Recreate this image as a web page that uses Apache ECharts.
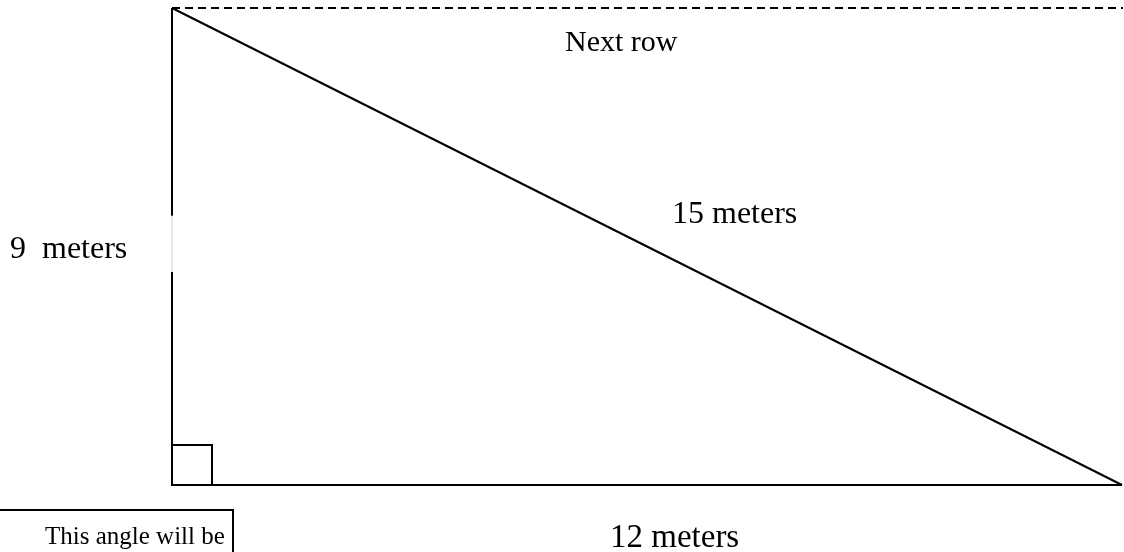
<!DOCTYPE html>
<html>
<head>
<meta charset="utf-8">
<script src="https://cdn.jsdelivr.net/npm/echarts@6/dist/echarts.min.js"></script>
<style>
html,body{margin:0;padding:0;background:#fff;}
#c{width:1124px;height:552px;}
</style>
</head>
<body>
<div id="c"></div>
<script>
// Triangle side lengths (meters)
var baseMeters = 12;
var heightMeters = 9;
var hypotenuseMeters = 15;
// Segments of the triangle [x meters, y meters]
var legVertical = [[0, 0], [0, 4.02], null, [0, 5.08], [0, 9]];
var legVerticalGap = [[0, 4.02], [0, 5.08]];
var legBase = [[0, 0], [12, 0]];
var hypotenuse = [[0, 9], [12, 0]];
var nextRow = [[0, 9], [12.03, 9]];
var rightAngle = [[0, 0]];
// Text labels
var labels = {
  nextRow: 'Next row',
  hyp: hypotenuseMeters + ' meters',
  vert: heightMeters + '  meters',
  base: baseMeters + ' meters',
  note: 'This angle will be'
};

var chart = echarts.init(document.getElementById('c'));
var font = '"Liberation Serif", "Times New Roman", serif';
function lineSeries(data, style) {
  return {
    type: 'line', data: data, symbol: 'none', silent: true, animation: false,
    connectNulls: false,
    lineStyle: style
  };
}
chart.setOption({
  animation: false,
  grid: {left: 172, right: 2, top: 8, bottom: 67},
  xAxis: {type: 'value', min: 0, max: 12, show: false},
  yAxis: {type: 'value', min: 0, max: 9, show: false},
  series: [
    lineSeries(legVertical, {color: '#000', width: 2}),
    lineSeries(legVerticalGap, {color: '#d0d0d0', width: 1}),
    lineSeries(legBase, {color: '#000', width: 2}),
    lineSeries(hypotenuse, {color: '#000', width: 2}),
    lineSeries(nextRow, {color: '#000', width: 2, type: [8, 5]}),
    {
      type: 'custom', data: rightAngle, silent: true, animation: false,
      renderItem: function (params, api) {
        var p = api.coord([api.value(0), api.value(1)]);
        return {type: 'rect', shape: {x: p[0], y: p[1] - 40, width: 40, height: 40},
          style: {fill: 'none', stroke: '#000', lineWidth: 2}};
      }
    }
  ],
  graphic: [
    {type: 'text', left: 565, top: 28, style: {text: labels.nextRow, font: '30px ' + font, fill: '#000'}},
    {type: 'text', left: 672, top: 199, style: {text: labels.hyp, font: '32px ' + font, fill: '#000'}},
    {type: 'text', left: 10, top: 234, style: {text: labels.vert, font: '32px ' + font, fill: '#000'}},
    {type: 'text', left: 610, top: 522, style: {text: labels.base, font: '33px ' + font, fill: '#000'}},
    {type: 'text', left: 45, top: 525, style: {text: labels.note, font: '25px ' + font, fill: '#000'}},
    {type: 'polyline', shape: {points: [[0, 510], [233, 510], [233, 552]]}, style: {stroke: '#000', lineWidth: 2, fill: 'none'}}
  ]
});
</script>
</body>
</html>
